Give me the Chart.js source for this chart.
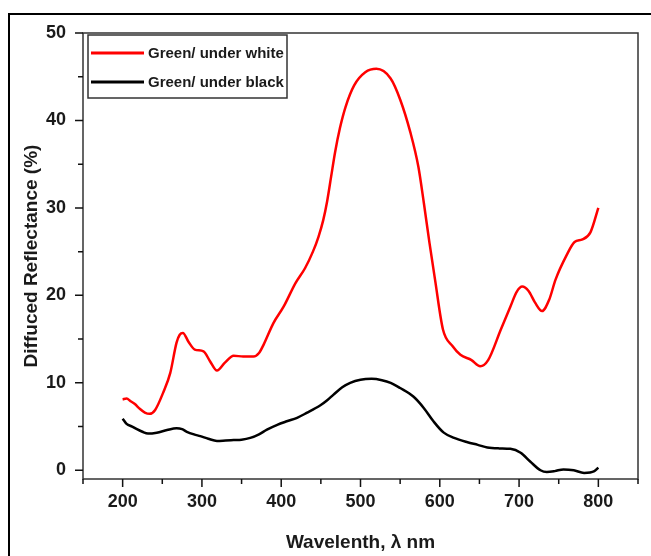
<!DOCTYPE html>
<html>
<head>
<meta charset="utf-8">
<script src="https://cdn.jsdelivr.net/npm/chart.js@4.4.1/dist/chart.umd.min.js"></script>
<style>
  html, body { margin: 0; padding: 0; background: #fff; }
  #wrap { position: relative; width: 651px; height: 556px; overflow: hidden; }
  #frame { position: absolute; left: 8px; top: 13px; width: 700px; height: 600px; border: 2px solid #000; box-sizing: border-box; }
  #chart { position: absolute; left: 0; top: 0; }
</style>
</head>
<body>
<div id="wrap">
  <div id="frame"></div>
  <canvas id="chart" width="651" height="556"></canvas>
</div>
<script>
// wavelengths (nm) and reflectance (%)
const whiteWl = [200, 205, 210, 215, 222, 228, 234, 241, 251, 260, 268, 272, 276, 283, 291, 302, 310, 319, 329, 340,
  352, 365, 372, 378, 390, 403, 418, 430, 440, 447, 453, 458, 463, 468, 474, 481, 492, 506, 520, 538,
  550, 563, 573, 580, 587, 594, 604, 616, 626, 640, 651, 661, 677, 689, 697, 704, 712, 720, 729, 738,
  746, 760, 770, 780, 790, 800];
const whiteVal = [8.1, 8.2, 7.9, 7.6, 7.0, 6.6, 6.45, 6.9, 8.85, 11.1, 14.6, 15.5, 15.7, 14.7, 13.8, 13.6, 12.5, 11.4, 12.3, 13.1,
  13.0, 13.0, 13.4, 14.4, 16.8, 18.7, 21.4, 23.1, 25.0, 26.7, 28.6, 30.8, 33.6, 36.4, 39.1, 41.5, 44.0, 45.5, 45.9, 44.8,
  42.4, 38.6, 34.7, 30.5, 26.0, 21.8, 16.1, 14.2, 13.2, 12.6, 11.9, 12.6, 16.1, 18.7, 20.4, 21.0, 20.5, 19.2, 18.2, 19.5,
  21.8, 24.6, 26.1, 26.4, 27.2, 30.0];

const blackWl = [200, 205, 212, 218, 225, 232, 243, 256, 268, 275, 281, 290, 298, 308, 319, 330, 340, 350, 361, 372,
  382, 395, 407, 420, 432, 449, 458, 466, 477, 487, 500, 514, 527, 538, 550, 567, 580, 592, 605, 618,
  635, 648, 660, 675, 689, 702, 714, 727, 735, 745, 756, 769, 782, 795, 800];
const blackVal = [5.9, 5.3, 5.0, 4.7, 4.4, 4.2, 4.3, 4.6, 4.8, 4.7, 4.4, 4.1, 3.9, 3.6, 3.35, 3.4, 3.45, 3.5, 3.7, 4.1,
  4.65, 5.2, 5.6, 6.0, 6.55, 7.4, 8.0, 8.65, 9.5, 10.0, 10.35, 10.45, 10.3, 10.0, 9.4, 8.4, 7.1, 5.6, 4.3, 3.7,
  3.2, 2.9, 2.6, 2.5, 2.45, 2.0, 1.0, 0.0, -0.2, -0.1, 0.1, 0.0, -0.3, -0.1, 0.3];

const seriesLabels = ['Green/ under white', 'Green/ under black'];
const xTicks = [200, 300, 400, 500, 600, 700, 800];
const xMinor = [150, 250, 350, 450, 550, 650, 750, 850];
const yTicks = [0, 10, 20, 30, 40, 50];
const yMinor = [5, 15, 25, 35, 45];

const toPoints = (xs, ys) => xs.map((x, i) => ({ x: x, y: ys[i] }));

// box round the plot, tick marks and the legend box
const frameAndTicks = {
  id: 'frameAndTicks',
  afterDraw(chart) {
    const { ctx, chartArea: a } = chart;
    const xs = chart.scales.x, ys = chart.scales.y;
    ctx.save();
    ctx.strokeStyle = '#333';
    ctx.lineWidth = 1.5;
    ctx.strokeRect(a.left, a.top, a.right - a.left, a.bottom - a.top);

    ctx.strokeStyle = '#111';
    ctx.beginPath();
    xTicks.forEach(v => { const p = xs.getPixelForValue(v); ctx.moveTo(p, a.bottom); ctx.lineTo(p, a.bottom + 8); });
    xMinor.forEach(v => { const p = xs.getPixelForValue(v); ctx.moveTo(p, a.bottom); ctx.lineTo(p, a.bottom + 5); });
    yTicks.forEach(v => { const p = ys.getPixelForValue(v); ctx.moveTo(a.left, p); ctx.lineTo(a.left - 8, p); });
    yMinor.forEach(v => { const p = ys.getPixelForValue(v); ctx.moveTo(a.left, p); ctx.lineTo(a.left - 5, p); });
    ctx.stroke();

    // legend
    const lx = 88, ly = 35, lw = 199, lh = 63;
    ctx.strokeStyle = '#333';
    ctx.lineWidth = 1.5;
    ctx.strokeRect(lx, ly, lw, lh);
    ctx.font = 'bold 15px "Liberation Sans", Arial, sans-serif';
    ctx.textBaseline = 'middle';
    ctx.textAlign = 'left';
    chart.data.datasets.forEach((ds, i) => {
      const y = [53, 82][i];
      ctx.strokeStyle = ds.borderColor;
      ctx.lineWidth = 3;
      ctx.beginPath();
      ctx.moveTo(91, y);
      ctx.lineTo(144, y);
      ctx.stroke();
      ctx.fillStyle = '#1a1a1a';
      ctx.fillText(ds.label, 148, y + 1);
    });
    ctx.restore();
  }
};

const ctx = document.getElementById('chart').getContext('2d');
const chart = new Chart(ctx, {
  type: 'line',
  data: {
    datasets: [{
      label: seriesLabels[0],
      data: toPoints(whiteWl, whiteVal),
      borderColor: '#ff0000',
      borderWidth: 2.5,
      pointRadius: 0,
      cubicInterpolationMode: 'monotone',
      fill: false,
    }, {
      label: seriesLabels[1],
      data: toPoints(blackWl, blackVal),
      borderColor: '#000000',
      borderWidth: 2.5,
      pointRadius: 0,
      cubicInterpolationMode: 'monotone',
      fill: false,
    }],
  },
  options: {
    responsive: false,
    animation: false,
    layout: { padding: { left: 0, top: 33, right: 13, bottom: 0 } },
    plugins: {
      legend: { display: false },
      tooltip: { enabled: false },
    },
    scales: {
      x: {
        type: 'linear',
        min: 150,
        max: 850,
        grid: { display: false, drawTicks: false },
        border: { display: false },
        afterBuildTicks: s => { s.ticks = xTicks.map(v => ({ value: v })); },
        afterFit: s => { s.height = 77; },
        ticks: {
          padding: 12,
          color: '#1a1a1a',
          font: { family: '"Liberation Sans", Arial, sans-serif', size: 18, weight: 'bold' },
        },
        title: {
          display: true,
          text: 'Wavelenth, λ nm',
          color: '#1a1a1a',
          padding: { top: 0, bottom: 2 },
          font: { family: '"Liberation Sans", Arial, sans-serif', size: 19, weight: 'bold' },
        },
      },
      y: {
        min: -1,
        max: 50,
        grid: { display: false, drawTicks: false },
        border: { display: false },
        afterBuildTicks: s => { s.ticks = yTicks.map(v => ({ value: v })); },
        afterFit: s => { s.width = 83; },
        ticks: {
          padding: 17,
          color: '#1a1a1a',
          font: { family: '"Liberation Sans", Arial, sans-serif', size: 18, weight: 'bold' },
        },
        title: {
          display: true,
          text: 'Diffuced Reflectance (%)',
          color: '#1a1a1a',
          padding: { top: 20, bottom: 0 },
          font: { family: '"Liberation Sans", Arial, sans-serif', size: 19, weight: 'bold' },
        },
      },
    },
  },
  plugins: [frameAndTicks],
});
</script>
</body>
</html>
